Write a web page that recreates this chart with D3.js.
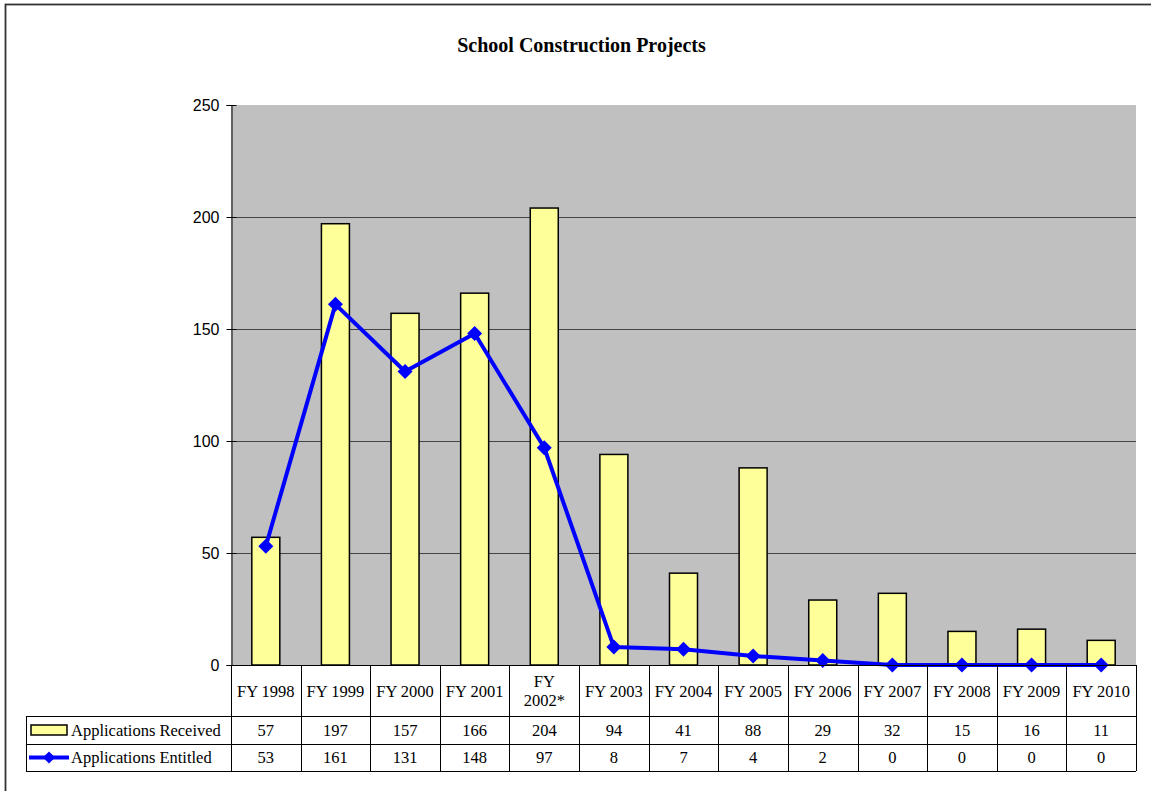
<!doctype html>
<meta charset="utf-8">
<style>
  body { margin: 0; background: #fff; }
  text { fill: #000; }
</style>
<body>
<script src="https://cdn.jsdelivr.net/npm/d3@7"></script>
<script>
var
  years = ['FY 1998', 'FY 1999', 'FY 2000', 'FY 2001', 'FY 2002*', 'FY 2003', 'FY 2004',
           'FY 2005', 'FY 2006', 'FY 2007', 'FY 2008', 'FY 2009', 'FY 2010'],
  received = [57, 197, 157, 166, 204, 94, 41, 88, 29, 32, 15, 16, 11],
  entitled = [53, 161, 131, 148, 97, 8, 7, 4, 2, 0, 0, 0, 0],
  yTicks = [0, 50, 100, 150, 200, 250],
  seriesNames = ['Applications Received', 'Applications Entitled']
;

var
  W = 1151, H = 791,
  plotLeft = 231, plotRight = 1136, plotTop = 105, plotBottom = 665,
  tableLeft = 26,
  rows = [665, 716, 744, 771],
  serif = '"Times New Roman", "Liberation Serif", serif',
  sans = 'Arial, "Liberation Sans", sans-serif',
  tableFont = '16.5px'
;

var svg = d3.select('body').append('svg').attr('width', W).attr('height', H);

// outer frame (only its left and top edges fall inside the picture)
svg.append('rect').attr('x', 5.5).attr('y', 4.5).attr('width', W + 20).attr('height', H + 20)
  .attr('fill', '#fff').attr('stroke', '#333').attr('stroke-width', 1.8);

svg.append('text').text('School Construction Projects')
  .attr('x', 581.5).attr('y', 52)
  .attr('text-anchor', 'middle')
  .style('font-family', serif).style('font-weight', 'bold').style('font-size', '20px');

var x = d3.scaleBand().domain(years).range([plotLeft, plotRight]).paddingInner(0).paddingOuter(0);
var y = d3.scaleLinear().domain([0, 250]).range([plotBottom, plotTop]);

// plot background
svg.append('rect').attr('x', plotLeft).attr('y', plotTop)
  .attr('width', plotRight - plotLeft).attr('height', plotBottom - plotTop)
  .attr('fill', '#c0c0c0');

// grid lines
svg.append('g').selectAll('line').data(yTicks.filter(function(t){return t > 0 && t < 250;}))
  .enter().append('line')
    .attr('x1', plotLeft).attr('x2', plotRight)
    .attr('y1', function(t){return Math.round(y(t)) + 0.5;})
    .attr('y2', function(t){return Math.round(y(t)) + 0.5;})
    .attr('stroke', '#444').attr('stroke-width', 1);

// y axis, ticks cross the axis line
var yAxis = svg.append('g').attr('transform', 'translate(' + (plotLeft + 0.5) + ',0)')
  .call(d3.axisLeft(y).tickValues(yTicks).tickSize(5).tickPadding(7));
yAxis.select('.domain').attr('stroke', '#000');
yAxis.selectAll('.tick line').attr('stroke', '#000').attr('x1', 5).attr('x2', -5);
yAxis.selectAll('text').style('font-family', sans).style('font-size', '16px').attr('fill', '#000');

// bars
var barW = 28;
svg.append('g').selectAll('rect').data(received)
  .enter().append('rect')
    .attr('x', function(d, i){return x(years[i]) + x.bandwidth() / 2 - barW / 2;})
    .attr('y', function(d){return y(d);})
    .attr('width', barW)
    .attr('height', function(d){return y(0) - y(d);})
    .attr('fill', '#ffff99').attr('stroke', '#000').attr('stroke-width', 1.5);

// line
var line = d3.line()
  .x(function(d, i){return x(years[i]) + x.bandwidth() / 2;})
  .y(function(d){return y(d);});

svg.append('path').datum(entitled)
  .attr('d', line)
  .attr('fill', 'none').attr('stroke', '#0000ff').attr('stroke-width', 4).attr('stroke-linejoin', 'round');

function diamond(cx, cy, r){
  return 'M' + cx + ',' + (cy - r) + 'L' + (cx + r) + ',' + cy + 'L' + cx + ',' + (cy + r) + 'L' + (cx - r) + ',' + cy + 'Z';
}

svg.append('g').selectAll('path').data(entitled)
  .enter().append('path')
    .attr('d', function(d, i){return diamond(x(years[i]) + x.bandwidth() / 2, y(d), 7.5);})
    .attr('fill', '#0000ff');

// data table
var table = svg.append('g').attr('stroke', '#000').attr('stroke-width', 1);
table.append('line').attr('x1', plotLeft).attr('x2', plotRight).attr('y1', rows[0] + 0.5).attr('y2', rows[0] + 0.5);
[rows[1], rows[2], rows[3]].forEach(function(r){
  table.append('line').attr('x1', tableLeft).attr('x2', plotRight).attr('y1', r + 0.5).attr('y2', r + 0.5);
});
table.append('line').attr('x1', tableLeft + 0.5).attr('x2', tableLeft + 0.5).attr('y1', rows[1]).attr('y2', rows[3]);
table.selectAll('.vline').data(years.concat(['end']))
  .enter().append('line')
    .attr('x1', function(d, i){return Math.round(plotLeft + i * x.bandwidth()) + 0.5;})
    .attr('x2', function(d, i){return Math.round(plotLeft + i * x.bandwidth()) + 0.5;})
    .attr('y1', rows[0]).attr('y2', rows[3]);

// category labels (wrap when too wide)
var cats = svg.append('g').selectAll('text').data(years)
  .enter().append('text')
    .attr('text-anchor', 'middle')
    .style('font-family', serif).style('font-size', tableFont);

cats.each(function(d){
  var t = d3.select(this);
  var cx = x(d) + x.bandwidth() / 2;
  t.text(d);
  if (this.getComputedTextLength() > x.bandwidth() - 8) {
    t.text(null);
    var parts = d.split(' ');
    parts.forEach(function(p, k){
      t.append('tspan').attr('x', cx).attr('y', (rows[0] + rows[1]) / 2 + 6 + (k - (parts.length - 1) / 2) * 19).text(p);
    });
  } else {
    t.attr('x', cx).attr('y', (rows[0] + rows[1]) / 2 + 6);
  }
});

// value rows
[received, entitled].forEach(function(series, s){
  svg.append('g').selectAll('text').data(series)
    .enter().append('text')
      .attr('x', function(d, i){return x(years[i]) + x.bandwidth() / 2;})
      .attr('y', (rows[s + 1] + rows[s + 2]) / 2 + 5.5)
      .attr('text-anchor', 'middle')
      .style('font-family', serif).style('font-size', tableFont)
      .text(function(d){return d;});
});

// legend keys
var ly1 = (rows[1] + rows[2]) / 2, ly2 = (rows[2] + rows[3]) / 2;
svg.append('rect').attr('x', 31).attr('y', ly1 - 5).attr('width', 36).attr('height', 10)
  .attr('fill', '#ffff99').attr('stroke', '#000').attr('stroke-width', 1.5);
svg.append('line').attr('x1', 29).attr('x2', 69).attr('y1', ly2).attr('y2', ly2)
  .attr('stroke', '#0000ff').attr('stroke-width', 4);
svg.append('path').attr('d', diamond(49, ly2, 6)).attr('fill', '#0000ff');

seriesNames.forEach(function(name, s){
  svg.append('text').text(name)
    .attr('x', 71).attr('y', (rows[s + 1] + rows[s + 2]) / 2 + 5.5)
    .style('font-family', serif).style('font-size', tableFont);
});
</script>
</body>
